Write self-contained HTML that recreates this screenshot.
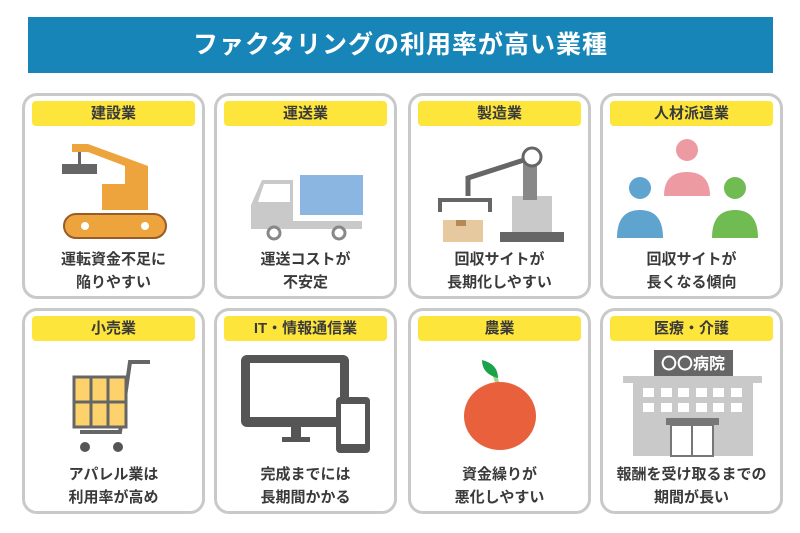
<!DOCTYPE html>
<html><head><meta charset="utf-8"><style>
*{margin:0;padding:0;box-sizing:border-box}
body{width:800px;height:533px;background:#fff;position:relative;overflow:hidden;font-family:"Liberation Sans","Noto Sans CJK JP",sans-serif;font-weight:bold;color:#3a3a3a}
.title{position:absolute;left:28px;top:17px;width:745px;height:56px;background:#1785b7;color:#fff;font-size:25px;text-align:center;line-height:56px;letter-spacing:1px}
.card{position:absolute;width:183px;height:206px;border:3px solid #c9c9c9;border-radius:15px;background:#fff}
.hd{position:absolute;left:7px;right:7px;top:5px;height:25px;background:#fde53c;border-radius:4px;text-align:center;font-size:15px;line-height:25px}
.ds{position:absolute;left:0;right:0;top:152px;text-align:center;font-size:15px;line-height:23px}
svg{position:absolute;left:0;top:0}
</style></head><body>
<div class="title">ファクタリングの利用率が高い業種</div>
<div class="card" style="left:22px;top:93px"><div class="hd">建設業</div><div class="ds">運転資金不足に<br>陥りやすい</div></div>
<div class="card" style="left:214px;top:93px"><div class="hd">運送業</div><div class="ds">運送コストが<br>不安定</div></div>
<div class="card" style="left:408px;top:93px"><div class="hd">製造業</div><div class="ds">回収サイトが<br>長期化しやすい</div></div>
<div class="card" style="left:600px;top:93px"><div class="hd">人材派遣業</div><div class="ds">回収サイトが<br>長くなる傾向</div></div>
<div class="card" style="left:22px;top:308px"><div class="hd">小売業</div><div class="ds">アパレル業は<br>利用率が高め</div></div>
<div class="card" style="left:214px;top:308px"><div class="hd">IT・情報通信業</div><div class="ds">完成までには<br>長期間かかる</div></div>
<div class="card" style="left:408px;top:308px"><div class="hd">農業</div><div class="ds">資金繰りが<br>悪化しやすい</div></div>
<div class="card" style="left:600px;top:308px"><div class="hd">医療・介護</div><div class="ds">報酬を受け取るまでの<br>期間が長い</div></div>
<svg width="800" height="533" viewBox="0 0 800 533">
<polygon points="72,144 88,144 148,166 148,210 102,210 102,184 125,184 125,166 88,152 72,152" fill="#eda43c"/>
<rect x="78" y="152" width="3" height="12" fill="#666"/>
<rect x="62" y="164" width="35" height="10" fill="#666"/>
<rect x="64" y="214" width="102" height="24" rx="12" fill="#eda43c" stroke="#9a5a2a" stroke-width="2"/>
<circle cx="85" cy="226" r="4" fill="#fff"/><circle cx="145" cy="226" r="4" fill="#fff"/>
<polygon points="251,229 251,205 262,180 293,180 293,221 362,221 362,229" fill="#c9c9c9"/>
<polygon points="264,184 290,184 290,202 258,202" fill="#fff"/>
<rect x="300" y="175" width="63" height="40" fill="#8cb6e2"/>
<circle cx="274" cy="233" r="6" fill="#fff" stroke="#888" stroke-width="3"/><circle cx="339" cy="233" r="6" fill="#fff" stroke="#888" stroke-width="3"/>
<rect x="500" y="232" width="64" height="10" fill="#666"/>
<rect x="512" y="196" width="40" height="36" fill="#c9c9c9"/>
<rect x="523" y="160" width="14" height="40" fill="#888"/>
<circle cx="532" cy="157" r="9" fill="#fff" stroke="#666" stroke-width="3"/>
<polyline points="524,160 468,178 468,196" fill="none" stroke="#666" stroke-width="5"/>
<polyline points="440,212 440,200 490,200 490,212" fill="none" stroke="#666" stroke-width="4"/>
<rect x="443" y="220" width="40" height="22" fill="#e7c9a0"/>
<rect x="456" y="220" width="10" height="6" fill="#b58a56"/>
<circle cx="687" cy="150" r="11" fill="#ee9aa3"/>
<path d="M664,196 q0,-24 23,-24 q23,0 23,24z" fill="#ee9aa3"/>
<circle cx="640" cy="188" r="11" fill="#5fa3cf"/>
<path d="M617,238 q0,-28 23,-28 q23,0 23,28z" fill="#5fa3cf"/>
<circle cx="735" cy="188" r="11" fill="#70bb52"/>
<path d="M712,238 q0,-28 23,-28 q23,0 23,28z" fill="#70bb52"/>
<polyline points="150,362 130,362 120,432 80,432" fill="none" stroke="#666" stroke-width="4"/>
<rect x="74" y="377" width="52" height="50" fill="#fdd26c" stroke="#666" stroke-width="3"/>
<line x1="91" y1="377" x2="91" y2="427" stroke="#666" stroke-width="3"/><line x1="108" y1="377" x2="108" y2="427" stroke="#666" stroke-width="3"/>
<line x1="74" y1="402" x2="126" y2="402" stroke="#666" stroke-width="3"/>
<circle cx="85" cy="447" r="5" fill="#555"/><circle cx="118" cy="447" r="5" fill="#555"/>
<rect x="241" y="355" width="108" height="72" rx="6" fill="#555"/>
<rect x="250" y="363" width="90" height="54" fill="#fff"/>
<rect x="291" y="427" width="10" height="10" fill="#555"/><rect x="282" y="437" width="28" height="5" fill="#555"/>
<rect x="336" y="397" width="34" height="56" rx="4" fill="#555"/>
<rect x="341" y="404" width="24" height="40" fill="#fff"/>
<path d="M500,392 q-4,-14 -6,-18" stroke="#a8d48a" stroke-width="4" fill="none"/>
<path d="M498,378 q-16,-4 -16,-18 q16,4 16,18z" fill="#1aa34a"/>
<ellipse cx="500" cy="416" rx="36" ry="34" fill="#e8603c"/>
<rect x="654" y="350" width="79" height="26" fill="#666"/>
<text x="693" y="369" font-size="16" fill="#fff" text-anchor="middle" font-family="Liberation Sans,Noto Sans CJK JP,sans-serif" font-weight="bold">〇〇病院</text>
<rect x="623" y="376" width="139" height="7" fill="#c9c9c9"/>
<rect x="633" y="383" width="120" height="73" fill="#c9c9c9"/>
<g fill="#fff">
<rect x="643" y="388" width="11" height="9"/><rect x="661" y="388" width="11" height="9"/><rect x="678" y="388" width="11" height="9"/><rect x="696" y="388" width="11" height="9"/><rect x="713" y="388" width="11" height="9"/><rect x="731" y="388" width="11" height="9"/>
<rect x="643" y="403" width="11" height="9"/><rect x="661" y="403" width="11" height="9"/><rect x="678" y="403" width="11" height="9"/><rect x="696" y="403" width="11" height="9"/><rect x="713" y="403" width="11" height="9"/><rect x="731" y="403" width="11" height="9"/>
</g>
<rect x="666" y="418" width="53" height="7" fill="#777"/>
<rect x="671" y="425" width="42" height="31" fill="#fff" stroke="#777" stroke-width="2"/>
<line x1="692" y1="425" x2="692" y2="456" stroke="#777" stroke-width="2"/>
</svg>
</body></html>
